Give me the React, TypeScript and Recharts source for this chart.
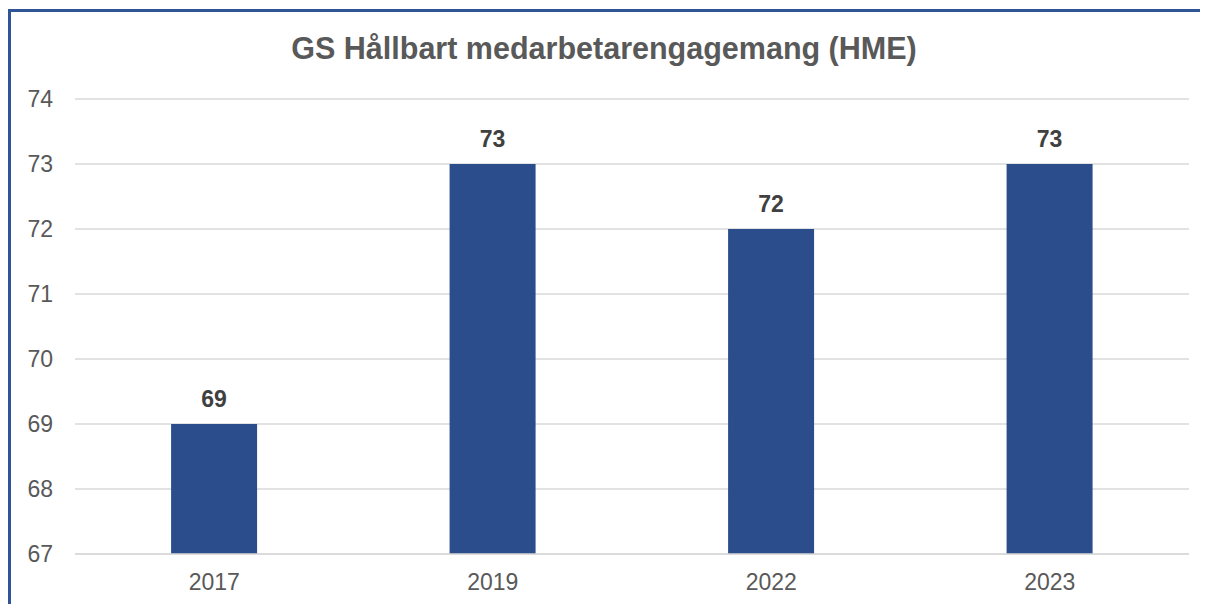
import { BarChart, Bar, XAxis, YAxis, CartesianGrid, LabelList } from 'recharts';

const years = ['2017', '2019', '2022', '2023'];
const hmeScores = [69, 73, 72, 73];
const yTicks = [67, 68, 69, 70, 71, 72, 73, 74];

const chartData = years.map((year, i) => ({ year, hme: hmeScores[i] }));

const TEXT_GRAY = '#595959';
const GRID = '#D9D9D9';
const BAR_BLUE = '#2C4D8B';
const FRAME_BLUE = '#2F5597';

export default function App() {
  return (
    <div
      style={{
        position: 'relative',
        width: 1200,
        height: 596,
        background: '#fff',
        fontFamily: '"Liberation Sans", Arial, sans-serif',
      }}
    >
      <style>{'html, body { overflow: hidden; }'}</style>
      {/* frame: only the left and top edges show in the reference */}
      <div style={{ position: 'absolute', left: 0, top: 1, width: 1200, height: 3, background: FRAME_BLUE }} />
      <div style={{ position: 'absolute', left: 0, top: 1, width: 3, height: 603, background: FRAME_BLUE }} />
      <div
        style={{
          position: 'absolute',
          left: 3,
          top: 23,
          width: 1186,
          textAlign: 'center',
          fontWeight: 700,
          fontSize: 31,
          color: TEXT_GRAY,
          transform: 'scaleX(0.984)',
          transformOrigin: '593px 0',
          whiteSpace: 'nowrap',
        }}
      >
        GS Hållbart medarbetarengagemang (HME)
      </div>
      <div style={{ position: 'absolute', left: 3, top: 4 }}>
        <BarChart
          width={1189}
          height={592}
          data={chartData}
          margin={{ top: 87, right: 11, bottom: 0, left: 0 }}
          barCategoryGap="34.5%"
        >
          <CartesianGrid vertical={false} stroke={GRID} strokeWidth={1.5} />
          <XAxis
            dataKey="year"
            axisLine={{ stroke: GRID, strokeWidth: 1.5 }}
            tickLine={false}
            tickSize={0}
            tickMargin={20}
            height={50}
            tick={{ fill: TEXT_GRAY, fontSize: 23 }}
          />
          <YAxis
            domain={[67, 74]}
            ticks={yTicks}
            axisLine={false}
            tickLine={false}
            tickSize={0}
            tickMargin={22}
            width={64}
            tick={{ fill: TEXT_GRAY, fontSize: 23 }}
          />
          <Bar dataKey="hme" fill={BAR_BLUE} isAnimationActive={false}>
            <LabelList
              dataKey="hme"
              position="top"
              offset={17}
              fill="#404040"
              fontSize={23}
              fontWeight={700}
            />
          </Bar>
        </BarChart>
      </div>
    </div>
  );
}
